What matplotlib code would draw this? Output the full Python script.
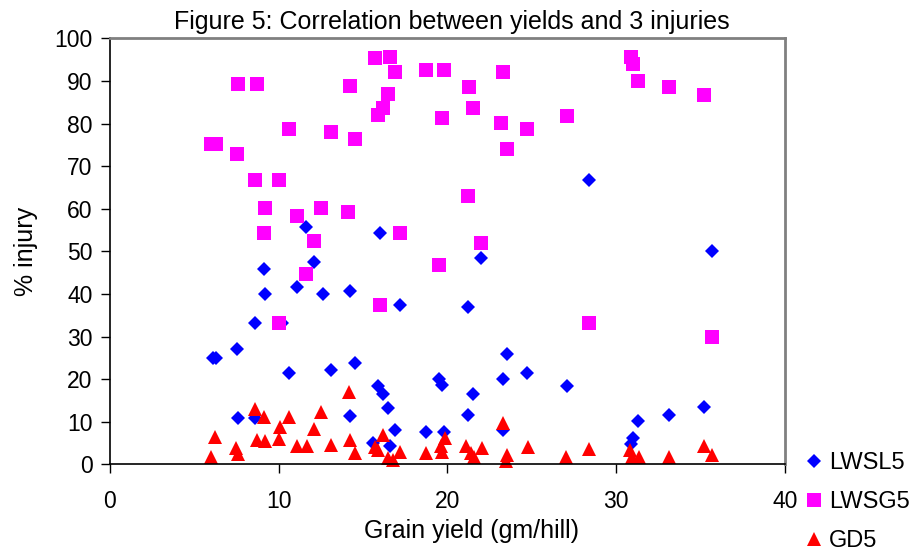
import numpy as np
import matplotlib
matplotlib.use("Agg")
import matplotlib.pyplot as plt

plt.rcParams['font.family'] = ['Liberation Sans', 'DejaVu Sans']

# LWSL5 (blue diamonds)
lwsl5_x = [6.1, 6.3, 7.5, 7.6, 8.6, 8.6, 9.1, 9.2, 10.0, 10.2, 10.6, 11.1, 11.6,
           12.1, 12.6, 13.1, 14.2, 14.2, 14.5, 15.6, 15.9, 16.0, 16.2, 16.5, 16.6,
           16.9, 17.2, 18.7, 19.5, 19.7, 19.8, 21.2, 21.2, 21.5, 22.0, 23.3, 23.3,
           23.5, 24.7, 27.1, 28.4, 30.9, 31.0, 31.3, 33.1, 35.2, 35.7]
lwsl5_y = [24.9, 24.9, 27.1, 11.0, 11.0, 33.3, 45.8, 39.9, 66.8, 33.3, 21.4, 41.7, 55.7,
           47.6, 39.9, 22.2, 40.7, 11.4, 23.7, 5.1, 18.4, 54.2, 16.5, 13.2, 4.3,
           8.2, 37.5, 7.6, 20.0, 18.6, 7.6, 37.0, 11.6, 16.5, 48.5, 20.0, 8.2,
           26.0, 21.4, 18.5, 66.7, 4.7, 6.1, 10.2, 11.6, 13.4, 50.1]

# LWSG5 (magenta squares)
lwsg5_x = [6.0, 6.3, 7.5, 7.6, 8.7, 8.6, 10.0, 9.2, 9.1, 10.0, 10.6, 11.1, 11.6,
           12.1, 12.5, 13.1, 14.1, 14.2, 14.5, 15.7, 15.9, 16.0, 16.2, 16.5, 16.6,
           16.9, 17.2, 18.7, 19.5, 19.7, 19.8, 21.2, 21.3, 21.5, 22.0, 23.2, 23.3,
           23.5, 24.7, 27.1, 28.4, 30.9, 31.0, 31.3, 33.1, 35.2, 35.7]
lwsg5_y = [75.2, 75.2, 72.9, 89.2, 89.2, 66.8, 66.8, 60.1, 54.2, 33.3, 78.8, 58.4, 44.6,
           52.5, 60.1, 78.0, 59.3, 88.7, 76.4, 95.3, 82.1, 37.5, 83.6, 86.9, 95.6,
           92.0, 54.2, 92.6, 46.7, 81.4, 92.6, 63.1, 88.5, 83.6, 51.9, 80.2, 92.0,
           74.1, 78.8, 81.7, 33.3, 95.6, 94.0, 89.9, 88.5, 86.7, 29.9]

# GD5 (red triangles)
gd5_x = [6.0, 6.25, 7.45, 7.6, 8.6, 8.7, 9.1, 9.2, 10.0, 10.05, 10.6, 11.1, 11.65,
         12.1, 12.5, 13.1, 14.15, 14.2, 14.5, 15.7, 15.9, 16.2, 16.5, 16.8, 17.2,
         18.7, 19.6, 19.7, 19.85, 21.1, 21.4, 21.55, 22.05, 23.3, 23.45, 23.5, 24.75,
         27.05, 28.4, 30.8, 30.95, 31.35, 33.1, 35.2, 35.7]
gd5_y = [1.8, 6.5, 3.8, 2.5, 13.0, 5.7, 11.1, 5.6, 5.9, 8.9, 11.1, 4.3, 4.3,
         8.3, 12.2, 4.6, 17.1, 5.7, 2.8, 4.0, 3.4, 6.9, 1.5, 1.1, 3.0,
         2.6, 4.3, 3.0, 6.1, 4.3, 2.6, 1.7, 3.8, 9.8, 0.8, 2.2, 4.2,
         1.7, 3.6, 3.4, 1.7, 1.7, 1.7, 4.3, 2.2]

fig = plt.figure(figsize=(9.24, 5.54), dpi=100)
ax = fig.add_axes([0.119, 0.1616, 0.7306, 0.7693])

ax.plot(lwsl5_x, lwsl5_y, linestyle='none', marker='D', markersize=7.3,
        color='#0000FF', markeredgewidth=0, label='LWSL5', clip_on=False)
ax.plot(lwsg5_x, lwsg5_y, linestyle='none', marker='s', markersize=10.5,
        color='#FF00FF', markeredgewidth=0, label='LWSG5', clip_on=False)
ax.plot(gd5_x, gd5_y, linestyle='none', marker='^', markersize=10,
        color='#FF0000', markeredgewidth=0, label='GD5', clip_on=False)

ax.set_xlim(0, 40)
ax.set_ylim(0, 100)
ax.set_xticks(np.arange(0, 41, 10))
ax.set_yticks(np.arange(0, 101, 10))
ax.tick_params(direction='out', length=6.5, width=1, labelsize=16.5, color='black')
ax.tick_params(axis='y', pad=6)
ax.tick_params(axis='x', pad=12)

for side in ['top', 'right']:
    ax.spines[side].set_color('#808080')
    ax.spines[side].set_linewidth(2)
for side in ['left', 'bottom']:
    ax.spines[side].set_color('black')
    ax.spines[side].set_linewidth(1.2)

ax.set_title('Figure 5: Correlation between yields and 3 injuries', fontsize=18, pad=7,
             x=0.506)
ax.set_xlabel('Grain yield (gm/hill)', fontsize=18, labelpad=1)
ax.xaxis.set_label_coords(0.535, -0.128)
ax.set_ylabel('% injury', fontsize=18, labelpad=12)

fig.legend(loc='center left', bbox_to_anchor=(0.868, 0.0935), frameon=False,
           fontsize=17, handlelength=1.0, handletextpad=0.15, labelspacing=0.72,
           borderpad=0, borderaxespad=0)

fig.savefig('out.png', dpi=100)
